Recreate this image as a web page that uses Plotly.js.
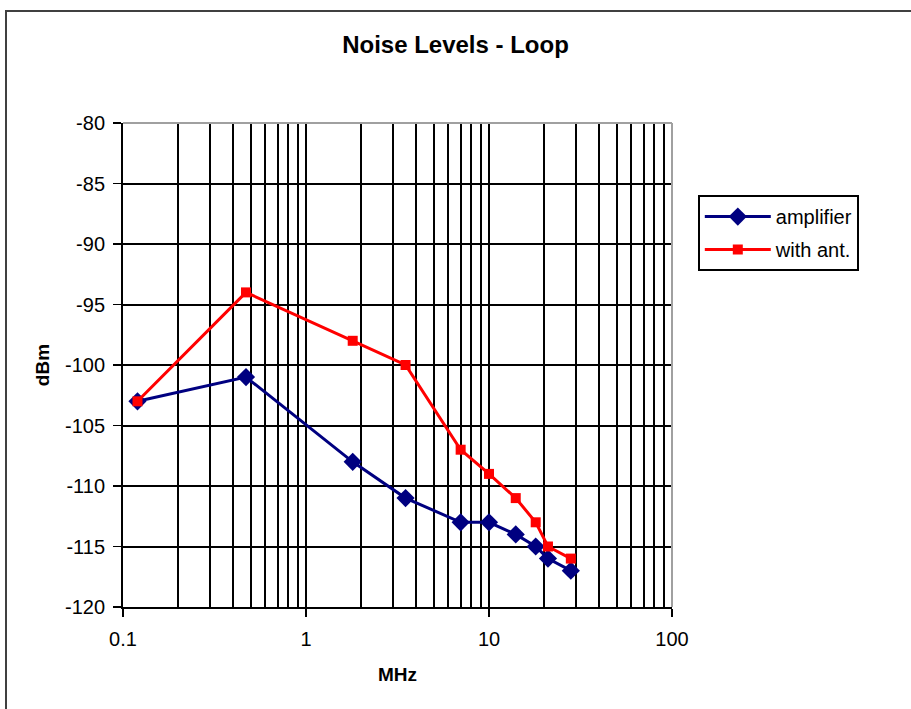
<!DOCTYPE html>
<html>
<head>
<meta charset="utf-8">
<script src="https://cdn.plot.ly/plotly-3.0.1.min.js"></script>
<style>
  html, body { margin: 0; padding: 0; background: #fff; overflow: hidden; }
  #chart { width: 911px; height: 709px; position: absolute; left: 0; top: 0; }
  #frame { position: absolute; left: 5px; top: 10px; width: 1000px; height: 1000px;
           border: 2px solid #404040; box-sizing: border-box; pointer-events: none; }
</style>
</head>
<body>
<div id="chart"></div>
<div id="frame"></div>
<script>
const freqMHz = [0.12, 0.47, 1.8, 3.5, 7, 10, 14, 18, 21, 28];
const amplifier = [-103, -101, -108, -111, -113, -113, -114, -115, -116, -117];
const withAnt = [-103, -94, -98, -100, -107, -109, -111, -113, -115, -116];
const xMajorTicks = [0.1, 1, 10, 100];
const xMajorTickText = ['0.1', '1', '10', '100'];
const xMinorTicks = [0.2, 0.3, 0.4, 0.5, 0.6, 0.7, 0.8, 0.9,
                     2, 3, 4, 5, 6, 7, 8, 9,
                     20, 30, 40, 50, 60, 70, 80, 90];
const yTicks = [-120, -115, -110, -105, -100, -95, -90, -85, -80];
const yTickText = ['-120', '-115', '-110', '-105', '-100', '-95', '-90', '-85', '-80'];

const font = 'Liberation Sans, Arial, sans-serif';

const traces = [
  {
    x: freqMHz, y: amplifier, name: 'amplifier', mode: 'lines+markers', legendgroup: 'a',
    line: { color: '#000080', width: 3 },
    marker: { symbol: 'diamond', size: 14, color: '#000080' }
  },
  {
    x: freqMHz, y: withAnt, name: 'with ant.', mode: 'lines+markers', legendgroup: 'b',
    line: { color: '#ff0000', width: 3 },
    marker: { symbol: 'square', size: 10, color: '#ff0000' }
  }
];

const layout = {
  width: 911, height: 709,
  margin: { l: 123, r: 239, t: 123, b: 102 },
  paper_bgcolor: '#ffffff', plot_bgcolor: '#ffffff',
  font: { family: font, size: 20, color: '#000' },
  title: { text: '<b>Noise Levels - Loop</b>', x: 0.5, xref: 'container', y: 0.9365, yanchor: 'middle',
           font: { family: font, size: 24, color: '#000' } },
  xaxis: {
    type: 'log', range: [-1, 2],
    tickmode: 'array', tickvals: xMajorTicks, ticktext: xMajorTickText,
    ticks: 'outside', ticklen: 8, tickcolor: '#000', tickwidth: 1.5,
    showgrid: true, gridcolor: '#000', gridwidth: 2,
    minor: { tickmode: 'array', tickvals: xMinorTicks, showgrid: true, gridcolor: '#000', gridwidth: 2, ticks: '' },
    showline: true, linecolor: '#000', linewidth: 2,
    zeroline: false,
    ticklabelstandoff: 5,
    tickfont: { family: font, size: 20, color: '#000' },
    title: { text: '<b>MHz</b>', font: { family: font, size: 19, color: '#000' }, standoff: 19 }
  },
  yaxis: {
    range: [-120, -80],
    tickmode: 'array', tickvals: yTicks, ticktext: yTickText,
    ticks: 'outside', ticklen: 8, tickcolor: '#000', tickwidth: 1.5,
    showgrid: true, gridcolor: '#000', gridwidth: 2,
    showline: true, linecolor: '#000', linewidth: 2,
    zeroline: false,
    ticklabelstandoff: 4,
    tickfont: { family: font, size: 20, color: '#000' },
    title: { text: '<b>dBm</b>', font: { family: font, size: 19, color: '#000' }, standoff: 10 }
  },
  shapes: [
    { type: 'line', xref: 'paper', yref: 'paper', x0: 0, x1: 1, y0: 1, y1: 1, line: { color: '#a0a0a0', width: 2 } },
    { type: 'line', xref: 'paper', yref: 'paper', x0: 1, x1: 1, y0: 0, y1: 1, line: { color: '#a0a0a0', width: 2 } }
  ],
  legend: {
    x: 1.047, xanchor: 'left', y: 0.851, yanchor: 'top',
    bordercolor: '#000', borderwidth: 2, bgcolor: '#fff',
    font: { family: font, size: 20, color: '#000' },
    tracegroupgap: 4, itemwidth: 66
  },
  showlegend: true
};

Plotly.newPlot('chart', traces, layout, { displayModeBar: false, staticPlot: true });
</script>
</body>
</html>
